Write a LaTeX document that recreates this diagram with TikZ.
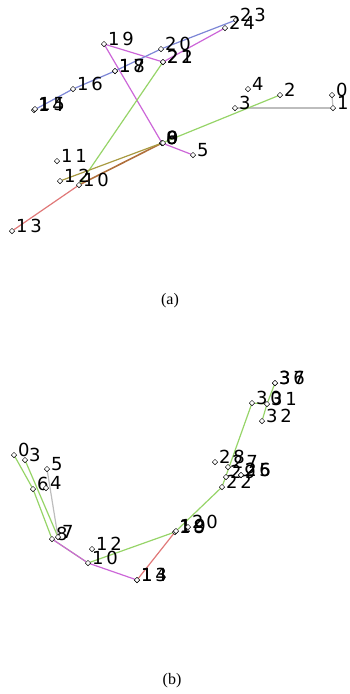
\documentclass[tikz,border=0pt]{standalone}
\usepackage{fontspec}
\usetikzlibrary{shapes.geometric,backgrounds}
\newfontfamily\lblfont[LetterSpace=15]{DejaVu Sans}
\newfontfamily\capfont{Liberation Serif}
\definecolor{cgreen}{HTML}{96D468}
\definecolor{cmag}{HTML}{CC66D8}
\definecolor{cblue}{HTML}{7C86D6}
\definecolor{cgray}{HTML}{BDBDBD}
\definecolor{cred}{HTML}{E07878}
\definecolor{cbrown}{HTML}{B0703C}
\definecolor{colive}{HTML}{A89A40}
\tikzset{
  mk/.style={diamond, draw=black, fill=white, line width=0.5pt, inner sep=0pt, minimum size=5.5pt},
  lbl/.style={anchor=base west, inner sep=0pt, text=black, font=\lblfont\fontsize{18}{18}\selectfont},
  captext/.style={inner sep=0pt, font=\capfont\fontsize{16}{16}\selectfont},
  bone/.style={line width=1.2pt},
}
% joint: marker node plus its index label
\newcommand\joint[4]{%
  \node[mk] (#1) at (#2,#3) {};
  \node[lbl] (#1l) at ([xshift=4pt,yshift=-1pt]#1.center) {#4};}
\begin{document}
\begin{tikzpicture}[x=1pt,y=-1pt]
\useasboundingbox (0,0) rectangle (349,694);
% ---------- skeleton (a) ----------
\joint{a0}{332}{95}{0}
\joint{a1}{333}{108}{1}
\joint{a2}{280}{95}{2}
\joint{a3}{235}{108}{3}
\joint{a4}{248}{89}{4}
\joint{a5}{193}{155}{5}
\joint{a6}{162}{143}{6}
\joint{a8}{162}{143}{8}
\joint{a9}{163}{143}{9}
\joint{a10}{79}{185}{10}
\joint{a11}{57}{161}{11}
\joint{a12}{60}{181}{12}
\joint{a13}{12}{231}{13}
\joint{a14}{34}{110}{14}
\joint{a15}{35}{109}{15}
\joint{a16}{73}{89}{16}
\joint{a17}{115}{71}{17}
\joint{a18}{115}{71}{18}
\joint{a19}{104}{44}{19}
\joint{a20}{161}{49}{20}
\joint{a21}{163}{62}{21}
\joint{a22}{163}{62}{22}
\joint{a23}{236}{20}{23}
\joint{a24}{225}{28}{24}
\node[captext] (capa) at (170,301) {(a)};
% ---------- skeleton (b) ----------
\joint{b0}{14}{455}{0}
\joint{b3}{25}{460}{3}
\joint{b5}{47}{469}{5}
\joint{b6}{33}{489}{6}
\joint{b4}{46}{488}{4}
\joint{b8}{52}{539}{8}
\joint{b7}{58}{537}{7}
\joint{b12}{92}{549}{12}
\joint{b10}{88}{563}{10}
\joint{b13}{137}{580}{13}
\joint{b14}{137}{580}{14}
\joint{b18}{175}{532}{18}
\joint{b19}{176}{531}{19}
\joint{b20}{188}{527}{20}
\joint{b22}{222}{487}{22}
\joint{b28}{215}{462}{28}
\joint{b27}{228}{467}{27}
\joint{b25}{241}{475}{25}
\joint{b26}{241}{475}{26}
\joint{b29}{226}{477}{29}
\joint{b30}{252}{403}{30}
\joint{b31}{267}{404}{31}
\joint{b32}{262}{421}{32}
\joint{b36}{275}{383}{36}
\joint{b37}{275}{383}{37}
\node[captext] (capb) at (172,681) {(b)};
% ---------- bones ----------
\begin{scope}[on background layer]
  % (a)
  \draw[bone,cgray] (a0) -- (a1);
  \draw[bone,cgray] (a1) -- (a3);
  \draw[bone,cgreen] (a2) -- (a8);
  \draw[bone,cmag] (a8) -- (a5);
  \draw[bone,cmag] (a19) -- (a8);
  \draw[bone,cmag] (a19) -- (a21);
  \draw[bone,cmag] (a21) -- (a24);
  \draw[bone,cblue] (a14) -- (a16) -- (a18) -- (a20) -- (a23);
  \draw[bone,cgreen] (a10) -- (a21);
  \draw[line width=1.6pt,cbrown] (a8) -- (a10);
  \draw[bone,colive] (a8) -- (a12);
  \draw[bone,cred] (a10) -- (a13);
  % (b)
  \draw[bone,cgreen] (b0) -- (b6) -- (b8) -- (b10);
  \draw[bone,cgreen] (b3) -- (b7);
  \draw[bone,cgray] (b5) -- (b7);
  \draw[bone,cmag] (b8) -- (b10) -- (b13);
  \draw[bone,cgreen] (b10) -- (b18);
  \draw[bone,cred] (b13) -- (b18);
  \draw[bone,cgreen] (b18) -- (b22) -- (b30);
  \draw[bone,cgreen] (b30) -- (b31) -- (b32);
  \draw[bone,cgreen] (b31) -- (b36);
\end{scope}
\end{tikzpicture}
\end{document}
